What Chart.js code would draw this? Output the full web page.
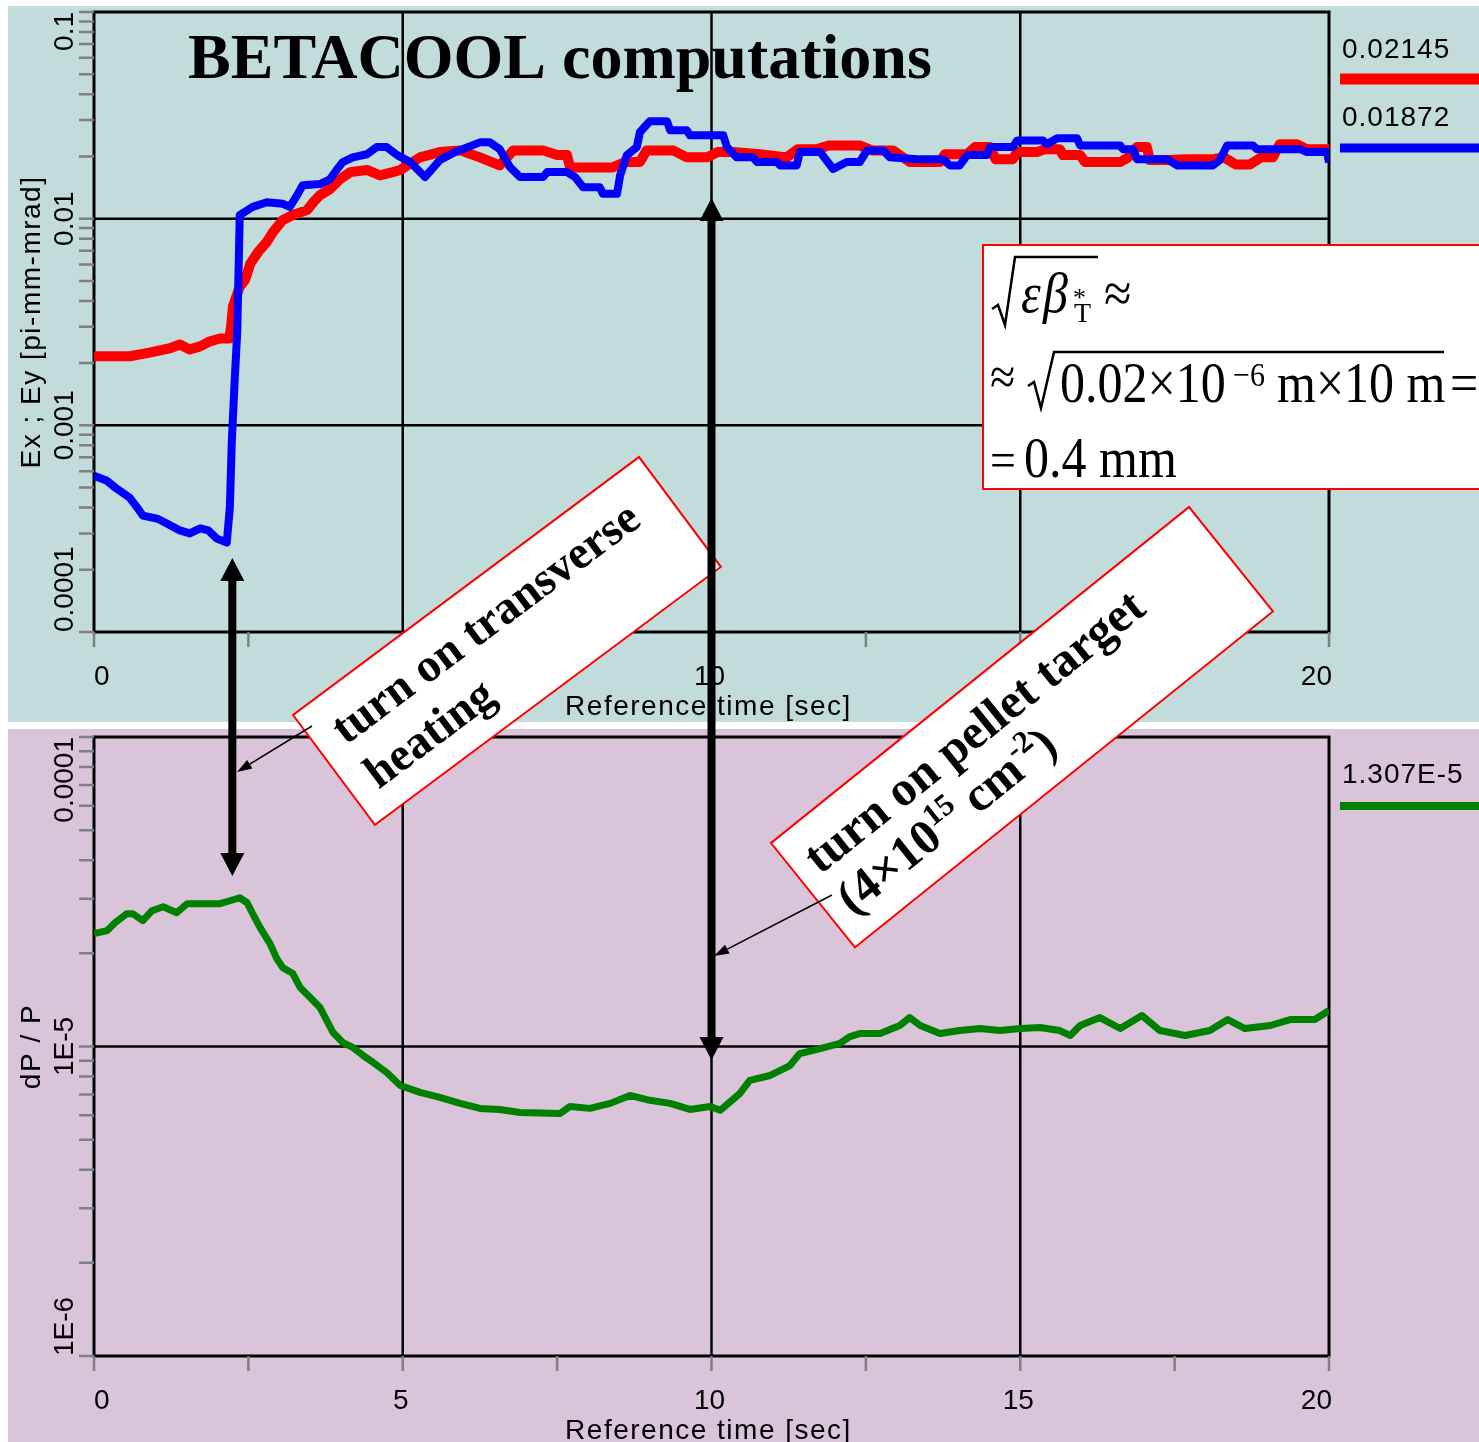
<!DOCTYPE html>
<html>
<head>
<meta charset="utf-8">
<script src="https://cdn.jsdelivr.net/npm/chart.js@4.4.1/dist/chart.umd.min.js"></script>
<style>
  html, body { margin: 0; padding: 0; background: #fff; }
  #wrap { position: relative; width: 1479px; height: 1442px; overflow: hidden; }
  #top { position: absolute; left: 0; top: 0; width: 1479px; height: 722px; }
  #bottom { position: absolute; left: 0; top: 722px; width: 1479px; height: 720px; }
  #overlay { position: absolute; left: 0; top: 0; width: 1479px; height: 1442px; pointer-events: none; }
</style>
</head>
<body>
<div id="wrap">
  <canvas id="top" width="1479" height="722"></canvas>
  <canvas id="bottom" width="1479" height="720"></canvas>
  <canvas id="overlay" width="1479" height="1442"></canvas>
</div>
<script>
// emittance Ex (red), seconds / pi-mm-mrad
const timeEx = [0, 0.58, 0.9, 1.23, 1.39, 1.55, 1.72, 1.88, 2.04, 2.19, 2.22, 2.25, 2.36, 2.45, 2.53,
  2.66, 2.80, 2.90, 3.06, 3.22, 3.45, 3.55, 3.66, 3.82, 3.98, 4.15, 4.42, 4.63, 4.84, 4.96,
  5.28, 5.60, 5.93, 6.25, 6.57, 6.79, 7.27, 7.5, 7.66, 7.71, 8.40, 8.6, 8.84, 8.95, 9.38,
  9.6, 9.93, 10.1, 10.35, 10.79, 11.22, 11.4, 11.71, 11.9, 12.40, 12.6, 12.94, 13.21, 13.70, 13.78,
  14.14, 14.27, 14.51, 14.6, 14.88, 14.95, 15.27, 15.4, 15.64, 15.69, 15.97, 16.05, 16.62, 16.75, 16.89,
  17.05, 17.10, 17.38, 17.7, 18.12, 18.3, 18.49, 18.72, 18.9, 19.09, 19.2, 19.48, 19.64, 20.0];
const emitX = [0.00216, 0.00216, 0.00225, 0.00236, 0.00246, 0.00233, 0.00241, 0.00255, 0.00263, 0.00263,
  0.00301, 0.00376, 0.00469, 0.00507, 0.00605, 0.00691, 0.00772, 0.00863, 0.00986, 0.01042,
  0.0110, 0.0120, 0.0130, 0.0139, 0.0155, 0.0168, 0.0172, 0.0162, 0.0168, 0.0172,
  0.0198, 0.0210, 0.0214, 0.0198, 0.0181, 0.0214, 0.0214, 0.0203, 0.0203, 0.0177,
  0.0177, 0.0188, 0.0188, 0.0214, 0.0214, 0.0198, 0.0198, 0.0210, 0.0210, 0.0205,
  0.0198, 0.0217, 0.0217, 0.0226, 0.0226, 0.0214, 0.0214, 0.0188, 0.0188, 0.0205,
  0.0205, 0.0222, 0.0222, 0.0194, 0.0194, 0.0210, 0.0210, 0.0217, 0.0217, 0.0203,
  0.0203, 0.0188, 0.0188, 0.0198, 0.0222, 0.0222, 0.0192, 0.0192, 0.0194, 0.0194,
  0.0198, 0.0183, 0.0183, 0.0198, 0.0198, 0.0229, 0.0229, 0.0217, 0.0217];

// emittance Ey (blue)
const timeEy = [0, 0.21, 0.37, 0.58, 0.70, 0.79, 1.02, 1.18, 1.39, 1.55, 1.72, 1.85, 1.99, 2.15, 2.20,
  2.23, 2.28, 2.32, 2.36, 2.57, 2.80, 3.06, 3.17, 3.29, 3.38, 3.66, 3.82, 3.94, 4.03, 4.19,
  4.42, 4.58, 4.74, 4.91, 5.12, 5.36, 5.60, 5.85, 6.25, 6.41, 6.57, 6.74, 6.90, 7.27, 7.34,
  7.66, 7.79, 7.92, 8.19, 8.24, 8.47, 8.52, 8.63, 8.79, 8.84, 9.00, 9.28, 9.33, 9.60, 9.65,
  10.19, 10.25, 10.41, 10.67, 10.74, 11.06, 11.11, 11.38, 11.43, 11.76, 11.97, 12.19, 12.40, 12.52, 12.78,
  12.89, 13.33, 13.75, 13.86, 14.02, 14.14, 14.46, 14.51, 14.88, 14.95, 15.37, 15.43, 15.60, 15.92, 15.97,
  16.62, 16.66, 16.83, 16.89, 17.38, 17.54, 18.12, 18.23, 18.35, 18.77, 18.83, 19.53, 19.64, 19.97, 20.0];
const emitY = [0.000570, 0.000539, 0.000493, 0.000446, 0.000400, 0.000366, 0.000354, 0.000335, 0.000310, 0.000300,
  0.000317, 0.000310, 0.000283, 0.000271, 0.000400, 0.000813, 0.00169, 0.00285, 0.0104, 0.0114,
  0.0120, 0.0118, 0.0114, 0.0130, 0.0145, 0.0147, 0.0155, 0.0174, 0.0188, 0.0198,
  0.0205, 0.0222, 0.0222, 0.0203, 0.0188, 0.0159, 0.0192, 0.0210, 0.0234, 0.0234,
  0.0217, 0.0177, 0.0159, 0.0159, 0.0168, 0.0168, 0.0159, 0.0142, 0.0142, 0.0132,
  0.0132, 0.0162, 0.0203, 0.0222, 0.0262, 0.0296, 0.0296, 0.0268, 0.0268, 0.0253,
  0.0253, 0.0222, 0.0198, 0.0198, 0.0188, 0.0188, 0.0181, 0.0181, 0.0210, 0.0210,
  0.0174, 0.0188, 0.0188, 0.0214, 0.0214, 0.0198, 0.0194, 0.0194, 0.0181, 0.0181,
  0.0203, 0.0203, 0.0222, 0.0222, 0.0239, 0.0239, 0.0229, 0.0245, 0.0245, 0.0226,
  0.0226, 0.0217, 0.0217, 0.0194, 0.0194, 0.0181, 0.0181, 0.0192, 0.0226, 0.0226,
  0.0217, 0.0217, 0.0210, 0.0210, 0.0187];

// momentum spread dP/P (green)
const timeDp = [0, 0.21, 0.34, 0.53, 0.63, 0.79, 0.94, 1.12, 1.34, 1.51, 1.83, 2.04, 2.20, 2.36, 2.48,
  2.57, 2.69, 2.85, 2.96, 3.06, 3.22, 3.34, 3.50, 3.66, 3.77, 3.87, 4.03, 4.19, 4.36, 4.52,
  4.74, 4.96, 5.28, 5.60, 5.93, 6.25, 6.57, 6.90, 7.55, 7.71, 8.03, 8.36, 8.68, 9.00, 9.33,
  9.65, 9.98, 10.14, 10.46, 10.62, 10.95, 11.27, 11.43, 11.76, 12.08, 12.24, 12.40, 12.73, 13.05, 13.21,
  13.38, 13.70, 14.02, 14.35, 14.67, 15.00, 15.32, 15.64, 15.81, 15.97, 16.29, 16.62, 16.97, 17.26, 17.67,
  18.07, 18.36, 18.64, 19.05, 19.37, 19.77, 20.0];
const dpOverP = [2.315e-5, 2.367e-5, 2.512e-5, 2.685e-5, 2.685e-5, 2.550e-5, 2.746e-5, 2.829e-5, 2.706e-5, 2.893e-5,
  2.893e-5, 2.893e-5, 2.958e-5, 3.024e-5, 2.914e-5, 2.685e-5, 2.420e-5, 2.149e-5, 1.922e-5, 1.798e-5,
  1.720e-5, 1.550e-5, 1.439e-5, 1.336e-5, 1.213e-5, 1.110e-5, 1.030e-5, 0.993e-5, 0.935e-5, 0.888e-5,
  0.824e-5, 0.748e-5, 0.711e-5, 0.685e-5, 0.655e-5, 0.631e-5, 0.626e-5, 0.612e-5, 0.608e-5, 0.640e-5,
  0.631e-5, 0.655e-5, 0.695e-5, 0.670e-5, 0.655e-5, 0.626e-5, 0.640e-5, 0.622e-5, 0.705e-5, 0.777e-5,
  0.806e-5, 0.868e-5, 0.949e-5, 0.985e-5, 1.023e-5, 1.077e-5, 1.101e-5, 1.101e-5, 1.169e-5, 1.240e-5,
  1.169e-5, 1.101e-5, 1.126e-5, 1.143e-5, 1.126e-5, 1.143e-5, 1.152e-5, 1.126e-5, 1.085e-5, 1.169e-5,
  1.240e-5, 1.143e-5, 1.259e-5, 1.126e-5, 1.085e-5, 1.126e-5, 1.222e-5, 1.143e-5, 1.169e-5, 1.222e-5,
  1.222e-5, 1.307e-5];

// axes
const xTickValues = [0, 2.5, 5, 7.5, 10, 12.5, 15, 17.5, 20];
const xLabelValues = [0, 5, 10, 15, 20];
const xLabels = ['0', '5', '10', '15', '20'];
const yTicksTop = [0.1, 0.01, 0.001, 0.0001];
const yLabelsTop = ['0.1', '0.01', '0.001', '0.0001'];
const yTicksBottom = [1e-4, 1e-5, 1e-6];
const yLabelsBottom = ['0.0001', '1E-5', '1E-6'];
const legendTop = ['0.02145', '0.01872'];
const legendBottom = ['1.307E-5'];

// moments marked by the arrows
const heatingOnT = 2.24;
const pelletOnT = 10;

const SANS = '"Liberation Sans", Arial, sans-serif';
const SERIF = '"Liberation Serif", "Times New Roman", serif';

const toXY = (xs, ys) => xs.map((t, i) => ({ x: t, y: ys[i] }));

// background, grid, frame, ticks, labels, value legend
const panelPlugin = {
    id: 'panel',
    beforeDraw(chart, args, o) {
        const ctx = chart.ctx;
        ctx.save();
        ctx.fillStyle = o.bg;
        ctx.fillRect(o.bgRect[0], o.bgRect[1], o.bgRect[2], o.bgRect[3]);
        ctx.restore();
    },
    beforeDatasetsDraw(chart, args, o) {
        const { ctx, chartArea: a, scales: { x, y } } = chart;
        ctx.save();
        ctx.strokeStyle = '#000';
        ctx.lineWidth = 2.5;
        ctx.beginPath();
        o.yTicks.forEach((v) => {
            if (v >= y.max || v <= y.min) return;
            const py = y.getPixelForValue(v);
            ctx.moveTo(a.left, py);
            ctx.lineTo(a.right, py);
        });
        xLabelValues.forEach((v) => {
            if (v <= x.min || v >= x.max) return;
            const px = x.getPixelForValue(v);
            ctx.moveTo(px, a.top);
            ctx.lineTo(px, a.bottom);
        });
        ctx.stroke();
        ctx.lineWidth = 3;
        ctx.strokeRect(a.left, a.top, a.right - a.left, a.bottom - a.top);
        ctx.restore();
    },
    afterDraw(chart, args, o) {
        const { ctx, chartArea: a, scales: { x, y } } = chart;
        ctx.save();

        // gray tick marks
        ctx.strokeStyle = '#808080';
        ctx.lineWidth = 2.5;
        ctx.beginPath();
        const lo = Math.round(Math.log10(y.min));
        const hi = Math.round(Math.log10(y.max));
        for (let e = lo; e < hi; e++) {
            for (let m = 1; m <= 10; m++) {
                const py = y.getPixelForValue(m * Math.pow(10, e));
                ctx.moveTo(a.left - 15, py);
                ctx.lineTo(a.left, py);
            }
        }
        xTickValues.forEach((v) => {
            const px = x.getPixelForValue(v);
            ctx.moveTo(px, a.bottom);
            ctx.lineTo(px, a.bottom + 15);
        });
        ctx.stroke();

        // y tick labels, rotated
        ctx.fillStyle = '#000';
        ctx.font = '28px ' + SANS;
        ctx.textBaseline = 'alphabetic';
        o.yTicks.forEach((v, i) => {
            let py = y.getPixelForValue(v);
            let align = 'center';
            if (v >= y.max) { py = a.top; align = 'right'; }
            else if (v <= y.min) { py = a.bottom; align = 'left'; }
            ctx.save();
            ctx.translate(a.left - 21, py);
            ctx.rotate(-Math.PI / 2);
            ctx.textAlign = align;
            ctx.fillText(o.yLabels[i], 0, 0);
            ctx.restore();
        });

        // x tick labels
        const last = xLabelValues.length - 1;
        xLabelValues.forEach((v, i) => {
            const px = x.getPixelForValue(v);
            if (i === 0) { ctx.textAlign = 'left'; ctx.fillText(xLabels[i], px, a.bottom + 53); }
            else if (i === last) { ctx.textAlign = 'right'; ctx.fillText(xLabels[i], px + 3, a.bottom + 53); }
            else { ctx.textAlign = 'center'; ctx.fillText(xLabels[i], px - 2, a.bottom + 53); }
        });

        // axis titles
        ctx.letterSpacing = '1.5px';
        ctx.textAlign = 'center';
        ctx.fillText('Reference time [sec]', (a.left + a.right) / 2 - 3, a.bottom + 83);
        ctx.save();
        ctx.translate(a.left - 54, (a.top + a.bottom) / 2);
        ctx.rotate(-Math.PI / 2);
        ctx.fillText(o.yTitle, 0, 0);
        ctx.restore();

        // last values with line samples
        ctx.letterSpacing = '1px';
        ctx.textAlign = 'left';
        o.legend.forEach((item, i) => {
            const ds = chart.data.datasets[i];
            ctx.fillStyle = '#000';
            ctx.fillText(item, 1342, o.legendPos[i][0]);
            ctx.fillStyle = ds.borderColor;
            const lw = ds.borderWidth + 1;
            ctx.fillRect(1340, o.legendPos[i][1] - lw / 2, 1479 - 1340, lw);
        });
        ctx.restore();
    },
};

const baseScales = (yMin, yMax) => ({
    x: {
        type: 'linear', min: 0, max: 20,
        grid: { display: false }, border: { display: false }, ticks: { display: false },
        afterFit: (s) => { s.height = 0; },
    },
    y: {
        type: 'logarithmic', min: yMin, max: yMax,
        grid: { display: false }, border: { display: false }, ticks: { display: false },
        afterFit: (s) => { s.width = 0; },
    },
});

const lineDefaults = { pointRadius: 0, tension: 0, fill: false, borderJoinStyle: 'round' };

const topChart = new Chart(document.getElementById('top'), {
    type: 'line',
    data: {
        datasets: [
            { label: 'Ex', data: toXY(timeEx, emitX), borderColor: '#ff0000', borderWidth: 10, order: 2, ...lineDefaults },
            { label: 'Ey', data: toXY(timeEy, emitY), borderColor: '#0000ff', borderWidth: 8, order: 1, ...lineDefaults },
        ],
    },
    options: {
        responsive: false,
        animation: false,
        devicePixelRatio: 1,
        layout: { padding: { left: 94, top: 12, right: 150, bottom: 90 } },
        scales: baseScales(1e-4, 0.1),
        plugins: {
            legend: { display: false },
            tooltip: { enabled: false },
            panel: {
                bg: '#c2dbdb', bgRect: [8, 6, 1471, 716],
                yTicks: yTicksTop, yLabels: yLabelsTop,
                yTitle: 'Ex ; Ey [pi-mm-mrad]',
                legend: legendTop, legendPos: [[58, 79], [126, 148]],
            },
        },
    },
    plugins: [panelPlugin],
});

const bottomChart = new Chart(document.getElementById('bottom'), {
    type: 'line',
    data: {
        datasets: [
            { label: 'dP/P', data: toXY(timeDp, dpOverP), borderColor: '#008000', borderWidth: 7, ...lineDefaults },
        ],
    },
    options: {
        responsive: false,
        animation: false,
        devicePixelRatio: 1,
        layout: { padding: { left: 94, top: 15, right: 150, bottom: 86 } },
        scales: baseScales(1e-6, 1e-4),
        plugins: {
            legend: { display: false },
            tooltip: { enabled: false },
            panel: {
                bg: '#d9c4d9', bgRect: [8, 7, 1471, 713],
                yTicks: yTicksBottom, yLabels: yLabelsBottom,
                yTitle: 'dP / P',
                legend: legendBottom, legendPos: [[61, 84]],
            },
        },
    },
    plugins: [panelPlugin],
});

// ---- annotations on the overlay ----
const ov = document.getElementById('overlay').getContext('2d');

function stretched(str, x, y, font, sy) {
    ov.save();
    ov.translate(x, y);
    ov.scale(1, sy || 1.12);
    ov.font = font;
    ov.fillText(str, 0, 0);
    ov.restore();
}

function rotBox(ax, ay, ang, w, h, draw) {
    ov.save();
    ov.translate(ax, ay);
    ov.rotate(ang);
    ov.fillStyle = '#fff';
    ov.fillRect(0, 0, w, h);
    ov.strokeStyle = '#ff0000';
    ov.lineWidth = 2;
    ov.strokeRect(0, 0, w, h);
    ov.fillStyle = '#000';
    ov.textBaseline = 'alphabetic';
    ov.textAlign = 'left';
    draw();
    ov.restore();
}

function dblArrow(x, y1, y2) {
    const hw = 12, hl = 23, sw = 8;
    ov.fillStyle = '#000';
    ov.fillRect(x - sw / 2, y1 + hl - 1, sw, y2 - y1 - 2 * hl + 2);
    ov.beginPath();
    ov.moveTo(x, y1); ov.lineTo(x - hw, y1 + hl); ov.lineTo(x + hw, y1 + hl); ov.closePath();
    ov.moveTo(x, y2); ov.lineTo(x - hw, y2 - hl); ov.lineTo(x + hw, y2 - hl); ov.closePath();
    ov.fill();
}

function thinArrow(x1, y1, x2, y2) {
    const ang = Math.atan2(y2 - y1, x2 - x1);
    const hl = 15, hw = 5;
    ov.strokeStyle = '#000';
    ov.lineWidth = 1.5;
    ov.beginPath();
    ov.moveTo(x1, y1);
    ov.lineTo(x2 - Math.cos(ang) * hl, y2 - Math.sin(ang) * hl);
    ov.stroke();
    ov.save();
    ov.translate(x2, y2);
    ov.rotate(ang);
    ov.beginPath();
    ov.moveTo(0, 0); ov.lineTo(-hl, -hw); ov.lineTo(-hl, hw); ov.closePath();
    ov.fillStyle = '#000';
    ov.fill();
    ov.restore();
}

// title
ov.fillStyle = '#000';
ov.font = 'bold 64px ' + SERIF;
ov.textBaseline = 'alphabetic';
ov.fillText('BETACOOL computations', 188, 78);

// formula box
ov.fillStyle = '#fff';
ov.fillRect(983, 245, 520, 244);
ov.strokeStyle = '#ff0000';
ov.lineWidth = 2;
ov.strokeRect(983, 245, 520, 244);
ov.fillStyle = '#000';
ov.strokeStyle = '#000';
ov.lineWidth = 2.5;
ov.beginPath();
ov.moveTo(992, 309); ov.lineTo(998, 305); ov.lineTo(1005, 325); ov.lineTo(1015, 257); ov.lineTo(1098, 257);
ov.moveTo(1028, 386); ov.lineTo(1034, 382); ov.lineTo(1041, 408); ov.lineTo(1054, 352); ov.lineTo(1444, 352);
ov.stroke();
stretched('\u03b5', 1021, 312, 'italic 50px ' + SERIF);
stretched('\u03b2', 1043, 312, 'italic 50px ' + SERIF);
ov.font = '26px ' + SERIF; ov.fillText('*', 1073, 306);
ov.font = '28px ' + SERIF; ov.fillText('T', 1074, 322);
stretched('\u2248', 1104, 312, '50px ' + SERIF);
stretched('\u2248', 990, 394, '46px ' + SERIF);
stretched('0.02\u00d710', 1060, 402, '50px ' + SERIF);
stretched('\u22126', 1233, 386, '30px ' + SERIF);
stretched('m\u00d710 m', 1277, 402, '50px ' + SERIF);
stretched('=', 1450, 402, '50px ' + SERIF);
stretched('=', 990, 477, '46px ' + SERIF);
stretched('0.4', 1024, 477, '50px ' + SERIF);
stretched('mm', 1099, 477, '50px ' + SERIF);

// "turn on transverse heating" label
rotBox(293, 715, Math.atan2(-258, 346), 431.6, 137, () => {
    ov.font = 'bold 47px ' + SERIF;
    ov.fillText('turn on transverse', 24, 56);
    ov.fillText('heating', 24, 111);
});

// "turn on pellet target" label
rotBox(771, 843, Math.atan2(-336, 418), 536.3, 134, () => {
    ov.font = 'bold 49px ' + SERIF;
    ov.fillText('turn on pellet target', 18, 56);
    const runs = [
        ['(4\u00d710', 49, 0], ['15', 31, -19], [' cm', 49, 0], ['-2', 31, -19], [')', 49, 0],
    ];
    let cx = 18;
    runs.forEach(([t, size, dy]) => {
        ov.font = 'bold ' + size + 'px ' + SERIF;
        ov.fillText(t, cx, 108 + dy);
        cx += ov.measureText(t).width;
    });
});

// double arrows at the switch-on moments
const xs = topChart.scales.x;
dblArrow(xs.getPixelForValue(heatingOnT), 558, 876);
dblArrow(xs.getPixelForValue(pelletOnT), 198, 1060);

thinArrow(312, 726, 237, 772);
thinArrow(832, 895, 714, 956);
</script>
</body>
</html>
